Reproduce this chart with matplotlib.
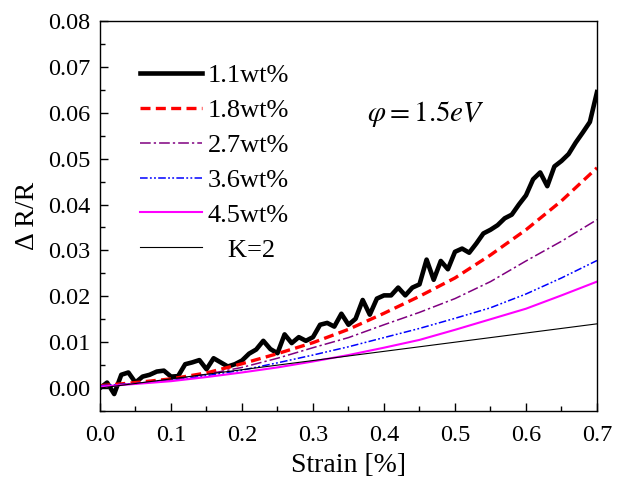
import matplotlib
matplotlib.use("Agg")
import matplotlib.pyplot as plt
from matplotlib.ticker import MultipleLocator

plt.rcParams['font.family'] = ['Liberation Serif', 'DejaVu Serif']
plt.rcParams['mathtext.fontset'] = 'stix'

## 1.1wt% curve, read every 0.01 strain
strain_fine = [i / 100 for i in range(71)]
r_11 = [0.0000, 0.0012, -0.0013, 0.0029, 0.0034, 0.0012, 0.0025, 0.0029, 0.0036, 0.0038,
        0.0025, 0.0026, 0.0052, 0.0056, 0.0061, 0.0041, 0.0065, 0.0056, 0.0047, 0.0052,
        0.0060, 0.0075, 0.0084, 0.0103, 0.0085, 0.0076, 0.0117, 0.0098, 0.0111, 0.0103,
        0.0111, 0.0138, 0.0142, 0.0134, 0.0162, 0.0138, 0.0151, 0.0192, 0.0160, 0.0195,
        0.0202, 0.0202, 0.0219, 0.0202, 0.0219, 0.0226, 0.0280, 0.0236, 0.0277, 0.0259,
        0.0297, 0.0304, 0.0295, 0.0315, 0.0337, 0.0345, 0.0355, 0.0370, 0.0378, 0.0400,
        0.0420, 0.0455, 0.0470, 0.0440, 0.0483, 0.0495, 0.0510, 0.0535, 0.0557, 0.0580,
        0.0645]

## smooth curves, read every 0.05 strain
strain = [0.0, 0.05, 0.1, 0.15, 0.2, 0.25, 0.3, 0.35, 0.4, 0.45, 0.5, 0.55, 0.6, 0.65, 0.7]
r_18 = [0.0005, 0.0012, 0.0020, 0.0033, 0.0053, 0.0075, 0.0099, 0.0128, 0.0163, 0.0200,
        0.0240, 0.0290, 0.0345, 0.0408, 0.0480]
r_27 = [0.0005, 0.0010, 0.0018, 0.0030, 0.0045, 0.0065, 0.0088, 0.0110, 0.0138, 0.0165,
        0.0195, 0.0232, 0.0277, 0.0320, 0.0367]
r_36 = [0.0005, 0.0010, 0.0016, 0.0027, 0.0039, 0.0055, 0.0072, 0.0090, 0.0110, 0.0130,
        0.0152, 0.0175, 0.0205, 0.0240, 0.0278]
r_45 = [0.0003, 0.0009, 0.0015, 0.0024, 0.0034, 0.0045, 0.0058, 0.0072, 0.0088, 0.0105,
        0.0127, 0.0150, 0.0173, 0.0202, 0.0232]
r_k2 = [0.0, 0.001, 0.002, 0.003, 0.004, 0.005, 0.006, 0.007, 0.008, 0.009,
        0.010, 0.011, 0.012, 0.013, 0.014]

fig = plt.figure(figsize=(6.18, 4.84), dpi=100)
ax = fig.add_axes([0.1618, 0.1508, 0.8042, 0.8058])

ax.plot(strain_fine, r_11, color="black", lw=3.3, label="1.1wt%")
ax.plot(strain, r_18, color="red", lw=2.4, dashes=(3, 1.6), label="1.8wt%")
ax.plot(strain, r_27, color="purple", lw=1.1, dashes=(7, 2, 1.5, 2), label="2.7wt%")
ax.plot(strain, r_36, color="blue", lw=1.1, dashes=(5, 1.5, 1.2, 1.5, 1.2, 1.5), label="3.6wt%")
ax.plot(strain, r_45, color="magenta", lw=1.5, label="4.5wt%")
ax.plot(strain, r_k2, color="black", lw=0.8, label="   K=2")

ax.set_xlim(0, 0.7)
ax.set_ylim(-0.005, 0.08)
ax.xaxis.set_major_locator(MultipleLocator(0.1))
ax.xaxis.set_minor_locator(MultipleLocator(0.05))
ax.yaxis.set_major_locator(MultipleLocator(0.01))
ax.yaxis.set_minor_locator(MultipleLocator(0.005))
ax.xaxis.set_major_formatter(plt.FormatStrFormatter("%.1f"))
ax.yaxis.set_major_formatter(plt.FormatStrFormatter("%.2f"))
ax.tick_params(which="both", direction="in", top=False, right=False, labelsize=17.5)
ax.tick_params(which="major", length=6, width=1, pad=7)
ax.tick_params(axis="x", which="major", pad=10)
ax.tick_params(which="minor", length=3.5, width=1)
for s in ax.spines.values():
    s.set_linewidth(1.0)

ax.set_xlabel("Strain [%]", fontsize=20, labelpad=5)
ax.set_ylabel("Δ R/R", fontsize=20, labelpad=6)

ax.text(0.376, 0.0598, r"$\varphi = 1.5eV$", fontsize=21, va="center")

ax.legend(loc="upper left", bbox_to_anchor=(0.06, 0.917), frameon=False, fontsize=19,
          handlelength=2.35, handletextpad=0.2, labelspacing=0.43, borderaxespad=0)

fig.savefig("out.png", dpi=100)
